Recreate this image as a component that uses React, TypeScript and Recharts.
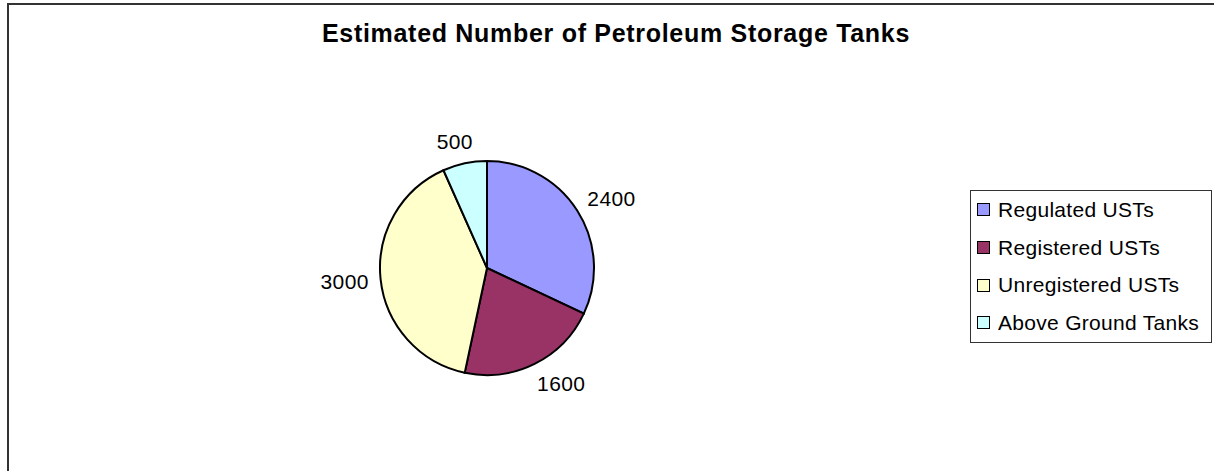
import React from "react";
import { PieChart, Pie, Cell, Legend } from "recharts";

const categories = [
  "Regulated USTs",
  "Registered USTs",
  "Unregistered USTs",
  "Above Ground Tanks",
];
const tankCounts = [2400, 1600, 3000, 500];
const sliceColors = ["#9999FF", "#993366", "#FFFFCC", "#CCFFFF"];
const chartTitle = "Estimated Number of Petroleum Storage Tanks";

const data = categories.map((name, i) => ({ name, value: tankCounts[i] }));

const RADIAN = Math.PI / 180;
const FONT = "'Liberation Sans', Arial, sans-serif";

// excel-ish "outside end" label: box sits just past the rim
const renderLabel = ({ cx, cy, midAngle, outerRadius, value }: any) => {
  const gap = 12;
  const cos = Math.cos(-midAngle * RADIAN);
  const sin = Math.sin(-midAngle * RADIAN);
  const px = cx + (outerRadius + gap) * cos;
  const py = cy + (outerRadius + gap) * sin;
  const w = String(value).length * 12;
  const h = 20;
  const k = Math.max(-1, Math.min(1, cos * 2));
  const x = px + (k * w) / 2;
  const y = py + (sin * h) / 2;
  return (
    <text
      x={x}
      y={y}
      textAnchor="middle"
      dominantBaseline="central"
      fill="#000"
      style={{ fontFamily: FONT, fontSize: 21, letterSpacing: 0.4 }}
    >
      {value}
    </text>
  );
};

// keep the series order (recharts 3 sorts legend items by default)
const LegendBox = ({ payload }: any) => {
  const items = [...(payload || [])].sort(
    (a: any, b: any) => categories.indexOf(a.value) - categories.indexOf(b.value)
  );
  return (
    <div
      style={{
        width: 240,
        height: 151,
        border: "1px solid #333",
        background: "#fff",
        fontFamily: FONT,
        fontSize: 21,
        letterSpacing: 0.3,
        color: "#000",
      }}
    >
      {items.map((entry: any, i: number) => (
        <div
          key={i}
          style={{ display: "flex", alignItems: "center", height: 37.7, paddingLeft: 6 }}
        >
          <span
            style={{
              display: "inline-block",
              width: 11,
              height: 11,
              border: "1px solid #000",
              background: entry.color,
              marginRight: 8,
            }}
          />
          <span>{entry.value}</span>
        </div>
      ))}
    </div>
  );
};

export default function App() {
  return (
    <div
      style={{
        position: "absolute",
        left: 0,
        top: 0,
        width: 1214,
        height: 471,
        background: "#fff",
        overflow: "hidden",
      }}
    >
      <div
        style={{
          position: "absolute",
          left: 7,
          top: 3,
          width: 1230,
          height: 500,
          border: "2px solid #333",
          boxSizing: "border-box",
        }}
      />
      <div
        style={{
          position: "absolute",
          left: 0,
          top: 19,
          width: 1232,
          textAlign: "center",
          fontFamily: FONT,
          fontWeight: "bold",
          fontSize: 25,
          letterSpacing: 0.7,
          lineHeight: "28px",
          color: "#000",
        }}
      >
        {chartTitle}
      </div>
      <div style={{ position: "absolute", left: 0, top: 0 }}>
        <PieChart width={1214} height={471} margin={{ top: 0, right: 0, bottom: 0, left: 0 }}>
          <Pie
            data={data}
            dataKey="value"
            nameKey="name"
            cx={487}
            cy={268}
            outerRadius={107}
            startAngle={90}
            endAngle={-270}
            stroke="#000"
            strokeWidth={2}
            label={renderLabel}
            labelLine={false}
            isAnimationActive={false}
          >
            {data.map((d, i) => (
              <Cell key={d.name} fill={sliceColors[i]} />
            ))}
          </Pie>
          <Legend
            layout="vertical"
            content={<LegendBox />}
            wrapperStyle={{ left: 970, top: 190, width: 242, height: 153 }}
          />
        </PieChart>
      </div>
    </div>
  );
}
